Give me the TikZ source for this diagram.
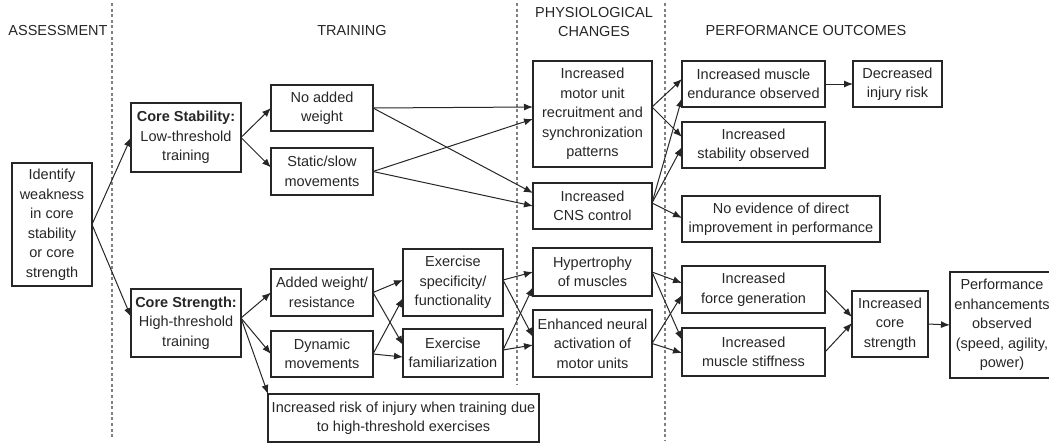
\documentclass[tikz,border=0pt]{standalone}
\usepackage{fontspec}
\setmainfont{Liberation Sans}
\usepackage{tikz}
\usetikzlibrary{arrows.meta}
\usetikzlibrary{calc}
\definecolor{ink}{HTML}{262626}

\begin{document}
\begin{tikzpicture}[x=1pt,y=-1pt]

\tikzstyle{box}=[draw=ink,line width=1.1pt,align=center,inner sep=0pt,outer sep=0pt,text=ink,font=\fontsize{14.5}{19.5}\selectfont]
\tikzstyle{head}=[align=center,inner sep=0pt,text=ink,font=\fontsize{14.5}{19.5}\selectfont]
\tikzstyle{link}=[draw=ink,line width=1pt,-{Latex[length=9pt,width=7pt]}]
\tikzstyle{sep}=[draw=gray,line width=1.3pt,dash pattern=on 3pt off 2.6pt]

\useasboundingbox (0,0) rectangle (1049,447);

% HEADINGS
\node [head] (hassess) at (58,31) {ASSESSMENT};
\node [head] (htrain) at (352,31) {TRAINING};
\node [head] (hphys) at (594,22) {PHYSIOLOGICAL\\CHANGES};
\node [head] (hperf) at (806,31) {PERFORMANCE OUTCOMES};

% SEPARATORS
\draw [sep] (112,3) -- (112,438);
\draw [sep] (517,3) -- (517,385);
\draw [sep] (665,3) -- (665,440);

% ASSESSMENT
\node [box,minimum width=80,minimum height=123] (id) at (52,224.5) {Identify\\weakness\\in core\\stability\\or core\\strength};

% TRAINING
\node [box,minimum width=110,minimum height=69] (cstab) at (186,137.5) {\textbf{Core Stability:}\\Low-threshold\\training};
\node [box,minimum width=110,minimum height=68] (cstr) at (186,323) {\textbf{Core Strength:}\\High-threshold\\training};
\node [box,minimum width=102,minimum height=46] (noadd) at (322,108) {No added\\weight};
\node [box,minimum width=102,minimum height=47] (slow) at (322,171.5) {Static/slow\\movements};
\node [box,minimum width=102,minimum height=47] (addw) at (322,292.5) {Added weight/\\resistance};
\node [box,minimum width=102,minimum height=46] (dyn) at (322,354) {Dynamic\\movements};
\node [box,minimum width=271,minimum height=48] (risk) at (403.5,418) {Increased risk of injury when training due\\to high-threshold exercises};
\node [box,minimum width=100,minimum height=67] (spec) at (453,282.5) {Exercise\\specificity/\\functionality};
\node [box,minimum width=100,minimum height=48] (fam) at (453,353) {Exercise\\familiarization};

% PHYSIOLOGICAL CHANGES
\node [box,minimum width=119,minimum height=106] (mu) at (592.5,114) {Increased\\motor unit\\recruitment and\\synchronization\\patterns};
\node [box,minimum width=119,minimum height=46] (cns) at (592.5,206) {Increased\\CNS control};
\node [box,minimum width=119,minimum height=48] (hyp) at (592.5,272) {Hypertrophy\\of muscles};
\node [box,minimum width=119,minimum height=67] (neur) at (592.5,343.5) {Enhanced neural\\activation of\\motor units};

% PERFORMANCE OUTCOMES
\node [box,minimum width=143,minimum height=46] (endu) at (753.5,84) {Increased muscle\\endurance observed};
\node [box,minimum width=89,minimum height=46] (injr) at (897.5,84) {Decreased\\injury risk};
\node [box,minimum width=143,minimum height=46] (stab) at (753.5,145) {Increased\\stability observed};
\node [box,minimum width=198,minimum height=46] (noev) at (781,219) {No evidence of direct\\improvement in performance};
\node [box,minimum width=143,minimum height=47] (force) at (753.5,289.5) {Increased\\force generation};
\node [box,minimum width=143,minimum height=48] (stiff) at (753.5,352) {Increased\\muscle stiffness};
\node [box,minimum width=76,minimum height=66] (core) at (890,324) {Increased\\core\\strength};
\node [box,minimum width=104,minimum height=106] (perf) at (1002,325) {Performance\\enhancements\\observed\\(speed, agility,\\power)};

% ARROWS
\draw [link] (id.east) -- (cstab.west);
\draw [link] (id.east) -- ($(cstr.west)+(0,-6)$);
\draw [link] (cstab.east) -- (noadd.west);
\draw [link] (cstab.east) -- ($(slow.west)+(0,-4)$);
\draw [link] ($(cstr.east)+(0,-5)$) -- (addw.west);
\draw [link] ($(cstr.east)+(0,-5)$) -- (dyn.west);
\draw [link] ($(cstr.east)+(0,-5)$) -- (risk.north west);

\draw [link] (noadd.east) -- ($(mu.west)+(0,-7)$);
\draw [link] (noadd.east) -- ($(cns.west)+(0,-13)$);
\draw [link] (slow.east) -- ($(mu.west)+(0,5)$);
\draw [link] (slow.east) -- (cns.west);

\draw [link] (addw.east) -- ($(spec.west)+(0,-2.5)$);
\draw [link] (addw.east) -- ($(fam.west)+(0,-8)$);
\draw [link] (dyn.east) -- ($(spec.west)+(0,15.5)$);
\draw [link] (dyn.east) -- ($(fam.west)+(0,4)$);

\draw [link] ($(spec.east)+(0,-2.5)$) -- (hyp.west);
\draw [link] ($(spec.east)+(0,-2.5)$) -- ($(neur.west)+(0,-6.5)$);
\draw [link] ($(fam.east)+(0,-3)$) -- ($(hyp.west)+(0,15)$);
\draw [link] ($(fam.east)+(0,-3)$) -- ($(neur.west)+(0,1.5)$);

\draw [link] ($(mu.east)+(0,-7)$) -- ($(endu.west)+(0,-5)$);
\draw [link] ($(mu.east)+(0,-7)$) -- ($(stab.west)+(0,-8)$);
\draw [link] ($(cns.east)+(0,-3)$) -- ($(endu.west)+(0,14)$);
\draw [link] ($(cns.east)+(0,-3)$) -- ($(stab.west)+(0,2)$);
\draw [link] ($(cns.east)+(0,-3)$) -- ($(noev.west)+(0,-1)$);

\draw [link] (hyp.east) -- ($(force.west)+(0,-6.5)$);
\draw [link] (hyp.east) -- ($(stiff.west)+(0,-12)$);
\draw [link] (neur.east) -- ($(force.west)+(0,5.5)$);
\draw [link] (neur.east) -- ($(stiff.west)+(0,1)$);

\draw [link] (endu.east) -- (injr.west);
\draw [link] (force.east) -- ($(core.west)+(0,-7)$);
\draw [link] (stiff.east) -- ($(core.west)+(0,-1)$);
\draw [link] (core.east) -- (perf.west);

\end{tikzpicture}
\end{document}
